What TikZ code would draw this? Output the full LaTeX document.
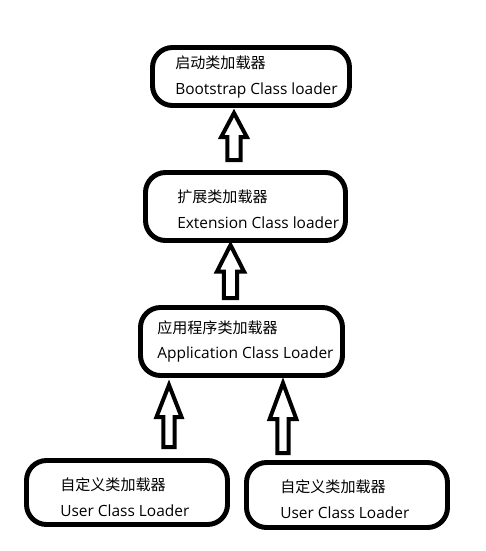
\documentclass[tikz,border=0pt]{standalone}
\usepackage{fontspec}
\setmainfont{Open Sans}
\newfontfamily\cnfont{Noto Sans CJK SC}
\usetikzlibrary{calc}

\tikzset{
  loaderbox/.style={draw=black, line width=3.7pt, rounded corners=15pt, fill=white, inner sep=0pt},
  cnlabel/.style={anchor=west, inner sep=0pt, font=\cnfont\fontsize{11.3pt}{13pt}\selectfont},
  enlabel/.style={anchor=west, inner sep=0pt, font=\fontsize{11.6pt}{14pt}\selectfont},
  hollowarrow/.style={draw=black, line width=3pt, line join=miter, fill=white}
}

% hollow upward block arrow: tail, tip, shaft half width, head half width, head length
\newcommand\hollowup[5]{%
  \path[hollowarrow] let \p1=(#1), \p2=(#2) in
    (\x1-#3,\y1) -- (\x1-#3,\y2-#5) -- (\x1-#4,\y2-#5) -- (\x2,\y2)
    -- (\x1+#4,\y2-#5) -- (\x1+#3,\y2-#5) -- (\x1+#3,\y1) -- cycle;
}

\begin{document}
\begin{tikzpicture}[x=0.75pt, y=-0.75pt]
  \useasboundingbox[fill=white] (0,0) rectangle (486,551);

  % loader boxes
  \node[loaderbox, minimum width=147.75pt, minimum height=43.5pt] (boot) at (251,76.5) {};
  \node[loaderbox, minimum width=150pt, minimum height=51pt] (ext) at (245.5,206.5) {};
  \node[loaderbox, minimum width=151.5pt, minimum height=51pt] (app) at (241.5,341.5) {};
  \node[loaderbox, minimum width=150.75pt, minimum height=48pt] (userA) at (127,492.5) {};
  \node[loaderbox, minimum width=150.75pt, minimum height=48.75pt] (userB) at (347,495) {};

  % labels
  \node[cnlabel] (bootcn) at (175,63) {启动类加载器};
  \node[enlabel] (booten) at (175,90) {Bootstrap Class loader};
  \node[cnlabel] (extcn) at (177,197) {扩展类加载器};
  \node[enlabel] (exten) at (177,223) {Extension Class loader};
  \node[cnlabel] (appcn) at (157,328) {应用程序类加载器};
  \node[enlabel] (appen) at (157,354) {Application Class Loader};
  \node[cnlabel] (userAcn) at (60,485) {自定义类加载器};
  \node[enlabel] (userAen) at (60,511) {User Class Loader};
  \node[cnlabel] (userBcn) at (280,487) {自定义类加载器};
  \node[enlabel] (userBen) at (280,513) {User Class Loader};

  % arrow ends
  \coordinate (extTail) at (234,160);
  \coordinate (extTip) at (234,113);
  \coordinate (appTail) at (230.5,298);
  \coordinate (appTip) at (230.5,245);
  \coordinate (userATail) at (169,447);
  \coordinate (userATip) at (169,385);
  \coordinate (userBTail) at (283,453);
  \coordinate (userBTip) at (283,383);

  % inheritance arrows towards the parent loader
  \hollowup{extTail}{extTip}{4.9pt}{9.6pt}{18pt}
  \hollowup{appTail}{appTip}{4.9pt}{10.2pt}{20pt}
  \hollowup{userATail}{userATip}{4.3pt}{9.4pt}{24pt}
  \hollowup{userBTail}{userBTip}{4.3pt}{10pt}{27pt}
\end{tikzpicture}
\end{document}
